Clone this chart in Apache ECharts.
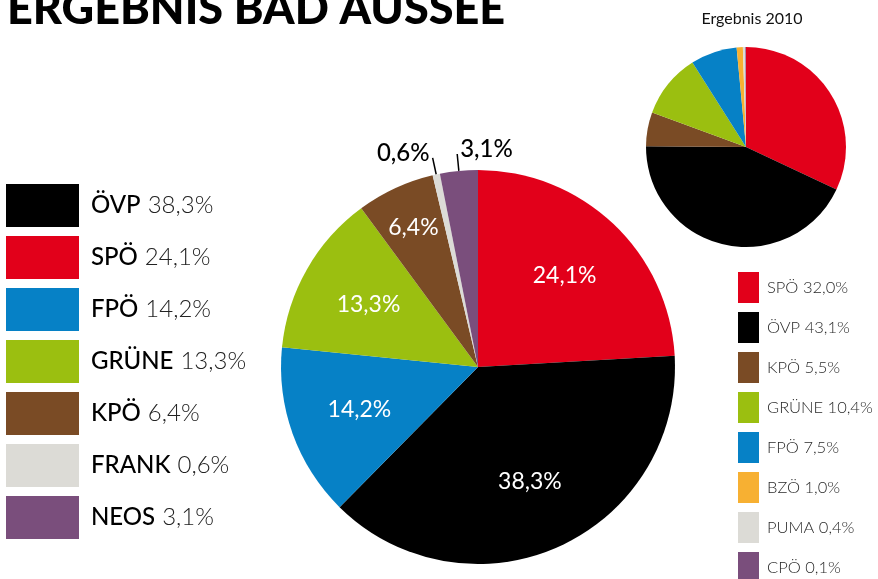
<!DOCTYPE html>
<html>
<head>
<meta charset="utf-8">
<style>
  html, body { margin: 0; padding: 0; background: #fff; }
  #chart { width: 878px; height: 579px; }
</style>
<script src="https://cdn.jsdelivr.net/npm/echarts@6/dist/echarts.min.js"></script>
</head>
<body>
<div id="chart"></div>
<script>
// Ergebnis (aktuell)
var parties = ["SPÖ", "ÖVP", "FPÖ", "GRÜNE", "KPÖ", "FRANK", "NEOS"];
var shares = [24.1, 38.3, 14.2, 13.3, 6.4, 0.6, 3.1];
var legendOrder = ["ÖVP", "SPÖ", "FPÖ", "GRÜNE", "KPÖ", "FRANK", "NEOS"];

// Ergebnis 2010
var parties2010 = ["SPÖ", "ÖVP", "KPÖ", "GRÜNE", "FPÖ", "BZÖ", "PUMA", "CPÖ"];
var shares2010 = [32.0, 43.1, 5.5, 10.4, 7.5, 1.0, 0.4, 0.1];

var colors = {
  "ÖVP": "#000000",
  "SPÖ": "#e2001a",
  "FPÖ": "#0681c6",
  "GRÜNE": "#9bbf10",
  "KPÖ": "#7a4b25",
  "FRANK": "#dcdbd6",
  "NEOS": "#7a4e7c",
  "BZÖ": "#f7b032",
  "PUMA": "#dcdbd6",
  "CPÖ": "#7a4e7c"
};

var font = "Lato, 'Noto Sans', sans-serif";
var mainCenter = [478, 367];
var mainRadius = 197;

function pct(v) {
  return v.toFixed(1).replace(".", ",") + "%";
}

var dom = document.getElementById("chart");
var myChart = echarts.init(dom, null, { renderer: "canvas" });

var mainData = parties.map(function (p, i) {
  var outside = shares[i] < 5;
  return {
    name: p,
    value: shares[i],
    itemStyle: { color: colors[p] },
    label: outside
      ? { position: "outside", color: "#000", fontSize: 24, fontWeight: 500 }
      : { position: "inside", color: "#fff" },
    labelLine: { show: outside }
  };
});

var oldData = parties2010.map(function (p, i) {
  return { name: p, value: shares2010[i], itemStyle: { color: colors[p] } };
});

// Position der Labels im Kuchen (aus Winkel berechnet)
function mainLabelLayout(params) {
  var i = params.dataIndex;
  var total = shares.reduce(function (a, b) { return a + b; }, 0);
  var before = 0;
  for (var k = 0; k < i; k++) before += shares[k];
  var mid = (90 - (before + shares[i] / 2) / total * 360) * Math.PI / 180;
  if (shares[i] < 5) {
    var pts = params.labelLinePoints;
    if (!pts) return {};
    var end = pts[pts.length - 1];
    var right = parties[i] === "NEOS";
    return {
      x: end[0] + (right ? 3 : -3),
      y: end[1] - 5,
      align: right ? "left" : "right",
      verticalAlign: "middle",
      labelLinePoints: pts
    };
  }
  var f = shares[i] < 10 ? 0.78 : 0.64;
  return {
    x: mainCenter[0] + Math.cos(mid) * mainRadius * f,
    y: mainCenter[1] - Math.sin(mid) * mainRadius * f,
    align: "center",
    verticalAlign: "middle"
  };
}

var option = {
  animation: false,
  title: [
    {
      text: "ERGEBNIS BAD AUSSEE",
      left: 7,
      top: -13,
      padding: 0,
      textStyle: { fontFamily: font, fontWeight: 900, fontSize: 45, color: "#000" }
    },
    {
      text: "Ergebnis 2010",
      left: 752,
      top: 11,
      textAlign: "center",
      padding: 0,
      textStyle: { fontFamily: font, fontWeight: "normal", fontSize: 16, color: "#111" }
    }
  ],
  legend: [
    {
      orient: "vertical",
      left: 6,
      top: 184,
      height: 380,
      padding: 0,
      itemWidth: 73,
      itemHeight: 43,
      itemGap: 9,
      icon: "rect",
      selectedMode: false,
      data: legendOrder,
      formatter: function (name) {
        return "{n|" + name + "}{v|" + pct(shares[parties.indexOf(name)]) + "}";
      },
      textStyle: {
        padding: [0, 0, 0, 7],
        rich: {
          n: { fontFamily: font, fontSize: 24, fontWeight: 500, color: "#000" },
          v: { fontFamily: font, fontSize: 24, fontWeight: 300, color: "#222", padding: [0, 0, 0, 7] }
        }
      }
    },
    {
      orient: "vertical",
      left: 738,
      top: 272,
      height: 340,
      padding: 0,
      itemWidth: 21,
      itemHeight: 31,
      itemGap: 9,
      icon: "rect",
      selectedMode: false,
      data: parties2010,
      formatter: function (name) {
        return name + " " + pct(shares2010[parties2010.indexOf(name)]);
      },
      textStyle: {
        padding: [0, 0, 0, 3],
        fontFamily: font,
        fontSize: 16.5,
        fontWeight: 300,
        color: "#2a2a2a"
      }
    }
  ],
  series: [
    {
      type: "pie",
      center: mainCenter,
      radius: mainRadius,
      startAngle: 90,
      clockwise: true,
      avoidLabelOverlap: false,
      emphasis: { disabled: true },
      label: {
        show: true,
        fontFamily: font,
        fontSize: 23,
        formatter: function (p) { return pct(p.value); }
      },
      labelLine: {
        length: 17,
        length2: 0,
        lineStyle: { color: "#000", width: 1.5 }
      },
      labelLayout: mainLabelLayout,
      data: mainData
    },
    {
      type: "pie",
      center: [746, 147],
      radius: 100,
      startAngle: 90,
      clockwise: true,
      emphasis: { disabled: true },
      label: { show: false },
      labelLine: { show: false },
      data: oldData
    }
  ]
};

myChart.setOption(option);
window.addEventListener("resize", myChart.resize);
</script>
</body>
</html>
